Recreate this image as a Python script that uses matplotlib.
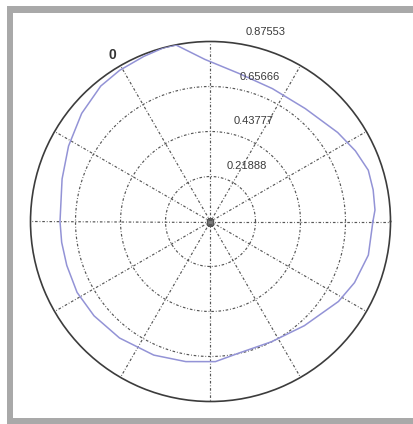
import numpy as np
import matplotlib
matplotlib.use("Agg")
import matplotlib.pyplot as plt
from matplotlib.patches import Rectangle

# ---- data (angle in degrees, radius) ----
theta_deg = [0, 4, 11, 18, 26, 35, 50, 65, 79, 92, 101, 105, 112, 121, 129, 140,
             152, 164, 180, 188, 197, 208, 219, 232, 247, 260, 272, 282, 297, 312,
             328, 337, 348]
rho = [0.790, 0.802, 0.806, 0.807, 0.784, 0.755, 0.717, 0.713, 0.733, 0.789,
       0.874, 0.8755, 0.866, 0.858, 0.848, 0.818, 0.782, 0.751, 0.732, 0.731,
       0.731, 0.735, 0.729, 0.719, 0.706, 0.692, 0.682, 0.655, 0.656, 0.682,
       0.734, 0.761, 0.785]
r_ticks = [0.21888, 0.43777, 0.65666, 0.87553]
r_tick_labels = ["0.21888", "0.43777", "0.65666", "0.87553"]
spoke_angles_deg = list(range(0, 360, 30))
corner_label = "0"

W, H = 414, 424
fig = plt.figure(figsize=(W / 100, H / 100), dpi=100)
fig.patch.set_facecolor("white")

# gray frame
gray = "#a9a9a9"
fig.add_artist(Rectangle((7 / W, 0), 6 / W, (H - 6) / H, transform=fig.transFigure,
                         color=gray, lw=0, zorder=0))
fig.add_artist(Rectangle((7 / W, (H - 12.5) / H), 1, 6.5 / H, transform=fig.transFigure,
                         color=gray, lw=0, zorder=0))
fig.add_artist(Rectangle((7 / W, 0), 1, 6 / H, transform=fig.transFigure,
                         color=gray, lw=0, zorder=0))

cx, cy, R = 210.5, H - 221.5, 180.0
ax = fig.add_axes([(cx - R) / W, (cy - R) / H, 2 * R / W, 2 * R / H], projection="polar")
ax.set_facecolor("none")
rmax = r_ticks[-1]
ax.set_rlim(0, rmax)
ax.grid(False)
ax.set_xticks([])
ax.set_yticks([])
ax.spines["polar"].set_color("#3c3c3c")
ax.spines["polar"].set_linewidth(1.2)

grid_kw = dict(color="#555555", lw=0.85, linestyle=(0, (2.2, 1.6, 0.7, 1.6)), zorder=1)
tt = np.linspace(0, 2 * np.pi, 361)
for rt in r_ticks[:-1]:
    ax.plot(tt, np.full_like(tt, rt), **grid_kw)
for a in spoke_angles_deg:
    ax.plot([np.deg2rad(a)] * 2, [0, rmax], **grid_kw)

# data curve
th = np.deg2rad(theta_deg + [theta_deg[0] + 360])
rr = rho + [rho[0]]
ax.plot(th, rr, color="#9393d6", lw=1.1, zorder=3)

# center marker
ax.plot([0], [0], marker="s", ms=4, color="#7a7a7a", mec="#555555", zorder=4)

# radial tick labels (MATLAB style at 82 deg)
rinc = rmax / 4
for rt, lab in zip(r_ticks, r_tick_labels):
    ax.annotate(lab, xy=(np.deg2rad(82), rt + rinc / 20), xytext=(7.2, 6.5),
                textcoords="offset points", ha="left", va="center",
                fontsize=8.0, family="Liberation Sans", color="#3a3a3a",
                annotation_clip=False, zorder=5)

ax.text(np.deg2rad(120.4), 0.939, corner_label, ha="center", va="center",
        fontsize=10, fontweight="bold", family="Liberation Sans", color="#333333",
        clip_on=False)

fig.savefig("out.png", dpi=100, facecolor="white")
